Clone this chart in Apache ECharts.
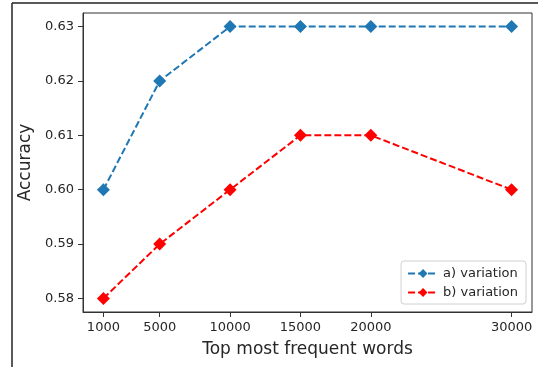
<!DOCTYPE html>
<html>
<head>
<meta charset="utf-8">
<script src="https://cdn.jsdelivr.net/npm/echarts@6/dist/echarts.min.js"></script>
<style>
  html, body { margin: 0; padding: 0; background: #fff; }
  #chart { width: 538px; height: 367px; }
</style>
</head>
<body>
<div id="chart"></div>
<script>
// data
var words = [1000, 5000, 10000, 15000, 20000, 30000];
var accA = [0.60, 0.62, 0.63, 0.63, 0.63, 0.63];
var accB = [0.58, 0.59, 0.60, 0.61, 0.61, 0.60];
var yTicks = [0.58, 0.59, 0.60, 0.61, 0.62, 0.63];

function pairs(xs, ys) {
    return xs.map(function (x, i) { return [x, ys[i]]; });
}

var font = 'DejaVu Sans';
var axisColor = '#333';
var textColor = '#262626';

var chart = echarts.init(document.getElementById('chart'));
var options = {
    animation: false,
    textStyle: { fontFamily: font },
    grid: {
        left: 83, top: 13, right: 6, bottom: 55,
        show: true,
        borderColor: axisColor,
        borderWidth: 1
    },
    graphic: [
        { type: 'line', shape: { x1: 12, y1: 3, x2: 538, y2: 3 }, style: { stroke: '#222', lineWidth: 1.5 } },
        { type: 'line', shape: { x1: 12, y1: 3, x2: 12, y2: 367 }, style: { stroke: '#222', lineWidth: 1.5 } }
    ],
    xAxis: {
        type: 'value',
        min: -450,
        max: 31450,
        name: 'Top most frequent words',
        nameLocation: 'middle',
        nameGap: 29,
        nameTextStyle: { fontSize: 17, color: textColor, fontFamily: font },
        axisLine: { show: true, onZero: false, lineStyle: { color: axisColor } },
        axisTick: { show: true, length: 5, customValues: words, lineStyle: { color: axisColor } },
        axisLabel: {
            customValues: words,
            margin: 9,
            fontSize: 13,
            color: textColor,
            fontFamily: font,
            formatter: function (v) { return String(v); }
        },
        splitLine: { show: false }
    },
    yAxis: {
        type: 'value',
        min: 0.5775,
        max: 0.6325,
        name: 'Accuracy',
        nameLocation: 'middle',
        nameGap: 38,
        nameTextStyle: { fontSize: 17, color: textColor, fontFamily: font },
        axisLine: { show: true, onZero: false, lineStyle: { color: axisColor } },
        axisTick: { show: true, length: 5, customValues: yTicks, lineStyle: { color: axisColor } },
        axisLabel: {
            customValues: yTicks,
            margin: 9,
            fontSize: 13,
            color: textColor,
            fontFamily: font,
            formatter: function (v) { return v.toFixed(2); }
        },
        splitLine: { show: false }
    },
    legend: {
        orient: 'vertical',
        right: 12,
        bottom: 63,
        padding: [6, 8, 5, 6],
        itemGap: 6,
        itemWidth: 30,
        itemHeight: 11,
        borderColor: '#d0d0d0',
        borderWidth: 1,
        borderRadius: 3,
        backgroundColor: '#fff',
        textStyle: { fontSize: 13, color: textColor, fontFamily: font },
        data: ['a) variation', 'b) variation']
    },
    series: [{
        name: 'a) variation',
        type: 'line',
        data: pairs(words, accA),
        symbol: 'diamond',
        symbolSize: 13,
        color: '#1f77b4',
        lineStyle: { type: [7, 3], width: 2 },
        itemStyle: { color: '#1f77b4' }
    }, {
        name: 'b) variation',
        type: 'line',
        data: pairs(words, accB),
        symbol: 'diamond',
        symbolSize: 13,
        color: '#ff0000',
        lineStyle: { type: [7, 3], width: 2 },
        itemStyle: { color: '#ff0000' }
    }]
};
chart.setOption(options);
</script>
</body>
</html>
